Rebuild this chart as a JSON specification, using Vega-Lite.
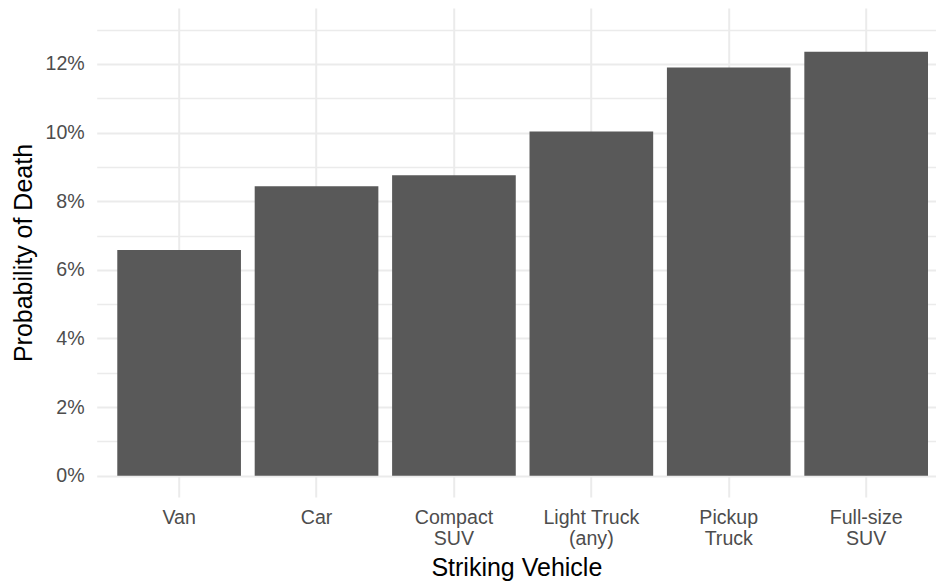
{
  "$schema": "https://vega.github.io/schema/vega-lite/v6.json",
  "width": 839.3,
  "height": 489,
  "autosize": {"type": "none"},
  "padding": {"left": 96.7, "top": 8, "right": 0, "bottom": 87},
  "background": "white",
  "config": {
    "view": {"stroke": null},
    "font": "Liberation Sans"
  },
  "data": {
    "values": [
      {"vehicle": "Van", "p": 0.0658},
      {"vehicle": "Car", "p": 0.0844},
      {"vehicle": "Compact\nSUV", "p": 0.08755},
      {"vehicle": "Light Truck\n(any)", "p": 0.1003},
      {"vehicle": "Pickup\nTruck", "p": 0.1190},
      {"vehicle": "Full-size\nSUV", "p": 0.1236}
    ]
  },
  "mark": {"type": "bar", "color": "#595959"},
  "encoding": {
    "x": {
      "field": "vehicle",
      "type": "nominal",
      "sort": null,
      "scale": {"paddingInner": 0.1, "paddingOuter": 0.104, "align": 0.72},
      "axis": {
        "title": "Striking Vehicle",
        "titleFontSize": 25,
        "titleFontWeight": "normal",
        "titleColor": "black",
        "titlePadding": 7.5,
        "labelAngle": 0,
        "labelFontSize": 19.6,
        "labelColor": "#4d4d4d",
        "labelPadding": 11,
        "labelLineHeight": 21.7,
        "labelExpr": "split(datum.label, '\\n')",
        "ticks": false,
        "domain": false,
        "grid": true,
        "bandPosition": 0.5,
        "gridColor": "#ebebeb",
        "gridWidth": 2
      }
    },
    "y": {
      "field": "p",
      "type": "quantitative",
      "scale": {"domain": [-0.00621, 0.13632], "nice": false, "zero": false},
      "axis": {
        "title": "Probability of Death",
        "titleFontSize": 25,
        "titleFontWeight": "normal",
        "titleColor": "black",
        "titlePadding": 8.5,
        "values": [0, 0.01, 0.02, 0.03, 0.04, 0.05, 0.06, 0.07, 0.08, 0.09, 0.1, 0.11, 0.12, 0.13],
        "format": ".0%",
        "labelExpr": "round(datum.value*100) % 2 == 0 ? datum.label : ''",
        "labelFontSize": 19.6,
        "labelColor": "#4d4d4d",
        "labelPadding": 12.5,
        "ticks": false,
        "domain": false,
        "grid": true,
        "gridColor": "#ebebeb",
        "gridWidth": {"condition": {"test": "round(datum.value*100) % 2 == 0", "value": 2}, "value": 1.4}
      }
    },
    "y2": {"datum": 0}
  }
}
